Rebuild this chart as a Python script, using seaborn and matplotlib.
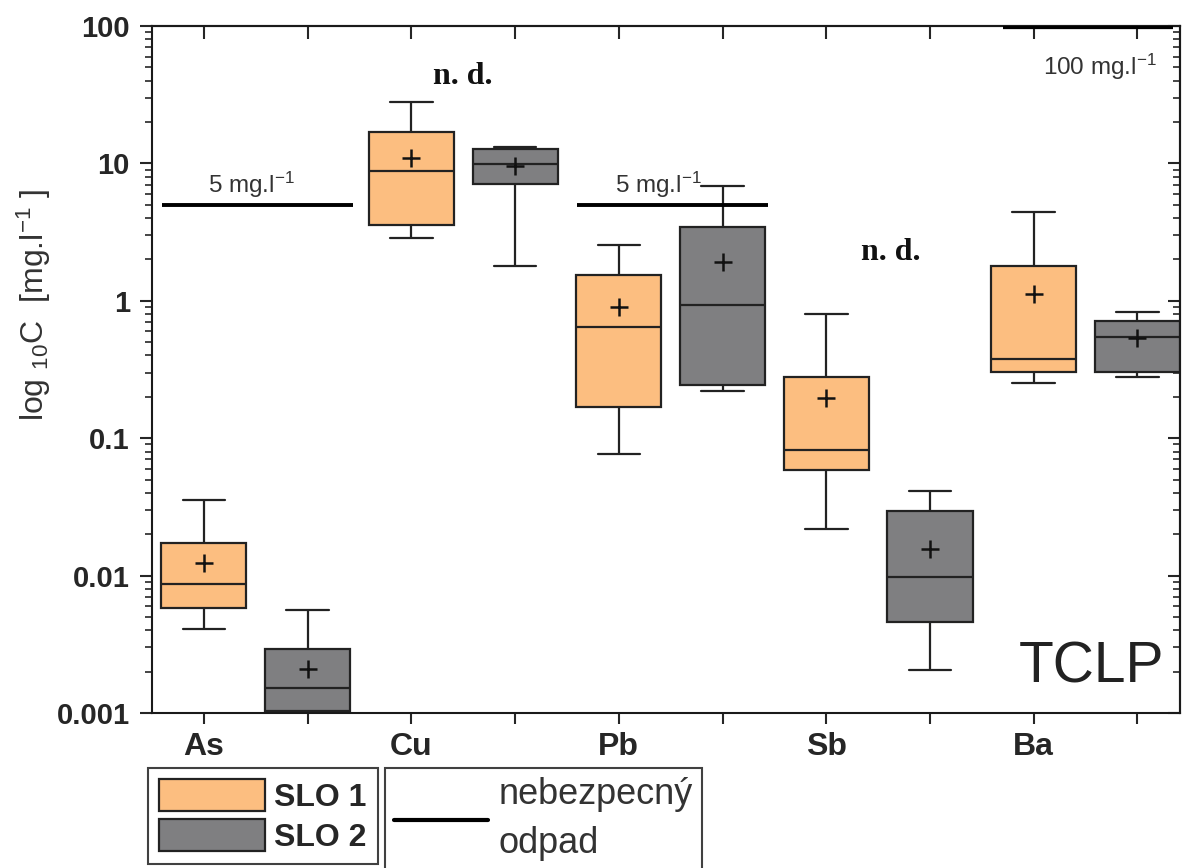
import numpy as np
import pandas as pd
import matplotlib
matplotlib.use("Agg")
import matplotlib.pyplot as plt
import seaborn as sns
from matplotlib.patches import Patch
from matplotlib.lines import Line2D
from matplotlib.ticker import LogLocator, NullFormatter

# ---------------- data ----------------
elements = ["As", "Cu", "Pb", "Sb", "Ba"]
groups = ["SLO 1", "SLO 2"]

slo1_low = [0.0041, 2.86, 0.077, 0.022, 0.252]
slo1_q1 = [0.0058, 3.56, 0.169, 0.059, 0.303]
slo1_median = [0.0087, 8.8, 0.645, 0.082, 0.377]
slo1_q3 = [0.0173, 16.9, 1.54, 0.279, 1.79]
slo1_high = [0.0355, 28.0, 2.55, 0.80, 4.43]
slo1_mean = [0.0124, 10.9, 0.90, 0.196, 1.12]

slo2_low = [0.00085, 1.79, 0.221, 0.00206, 0.279]
slo2_q1 = [0.00103, 7.08, 0.244, 0.00459, 0.303]
slo2_median = [0.00152, 9.9, 0.93, 0.00977, 0.545]
slo2_q3 = [0.00292, 12.7, 3.44, 0.0295, 0.713]
slo2_high = [0.00562, 13.2, 6.85, 0.0413, 0.83]
slo2_mean = [0.00209, 9.57, 1.92, 0.0156, 0.537]

limit_elements = ["As", "Pb", "Ba"]
limit_values = [5, 5, 100]
limit_texts = [r"5 mg.l$^{-1}$", r"5 mg.l$^{-1}$", r"100 mg.l$^{-1}$"]

nd_elements = ["Cu", "Sb"]
nd_text = "n. d."

y_tick_values = [0.001, 0.01, 0.1, 1, 10, 100]
y_tick_labels = ["0.001", "0.01", "0.1", "1", "10", "100"]

colors = {"SLO 1": "#FCBE80", "SLO 2": "#7F7F81"}
edge = "#222222"

# ---------------- style ----------------
sns.set_theme(style="ticks")
plt.rcParams["font.family"] = ["Liberation Sans", "DejaVu Sans"]
plt.rcParams["mathtext.fontset"] = "custom"
plt.rcParams["mathtext.rm"] = "Liberation Sans"
plt.rcParams["mathtext.it"] = "Liberation Sans:italic"
plt.rcParams["mathtext.bf"] = "Liberation Sans:bold"
plt.rcParams["axes.linewidth"] = 1.5
plt.rcParams["axes.edgecolor"] = "#1a1a1a"

fig = plt.figure(figsize=(11.84, 8.68), dpi=100)
ax = fig.add_axes([0.1284, 0.1786, 0.8682, 0.7914])

# long table built from the five-number summaries
rows = []
summaries = {
    "SLO 1": (slo1_low, slo1_q1, slo1_median, slo1_q3, slo1_high),
    "SLO 2": (slo2_low, slo2_q1, slo2_median, slo2_q3, slo2_high),
}
for g, arrs in summaries.items():
    for i, el in enumerate(elements):
        for arr in arrs:
            rows.append({"element": el, "group": g, "conc": arr[i]})
df = pd.DataFrame(rows)

sns.boxplot(
    data=df, x="element", y="conc", hue="group",
    order=elements, hue_order=groups, palette=colors,
    saturation=1, width=1.0, gap=0.18, dodge=True,
    whis=(0, 100), showfliers=False,
    linewidth=1.6, linecolor=edge, log_scale=True,
    legend=False, ax=ax,
)

# means as "+"
mean_df = pd.DataFrame({
    "pos": [i - 0.25 for i in range(len(elements))] + [i + 0.25 for i in range(len(elements))],
    "mean": slo1_mean + slo2_mean,
})
sns.scatterplot(data=mean_df, x="pos", y="mean", marker="+", s=180,
                color="#111111", linewidth=1.8, legend=False, ax=ax, zorder=5)

# threshold lines (nebezpecný odpad)
spans = {"As": (-0.45, 0.47), "Pb": (-0.45, 0.47), "Ba": (-0.40, 0.42)}
text_dx = {"As": -0.02, "Pb": -0.06, "Ba": 0.07}
for el, val, txt in zip(limit_elements, limit_values, limit_texts):
    i = elements.index(el)
    lo, hi = spans[el]
    lw = 4.5 if val >= 100 else 2.8
    ax.hlines(val, i + lo, i + hi, color="black", lw=lw, zorder=4)
    ty = val * 1.39 if val < 100 else val * 0.50
    ax.text(i + text_dx[el], ty, txt, ha="center", va="center",
            fontsize=17.5, color="#333333", zorder=6)

nd_pos = {"Cu": (0.0, 42.6), "Sb": (0.06, 2.26)}
for el in nd_elements:
    i = elements.index(el)
    dx, yv = nd_pos[el]
    ax.text(i + dx, yv, nd_text, ha="center", va="center", fontsize=23,
            fontweight="bold", family=["Liberation Serif", "DejaVu Serif"], color="#111111")

ax.text(0.914, 0.066, "TCLP", transform=ax.transAxes, ha="center", va="center",
        fontsize=41, color="#222222")

# axes
ax.set_ylim(0.001, 100)
ax.set_xlim(-0.5, 4.455)
ax.set_yticks(y_tick_values, labels=y_tick_labels)
ax.yaxis.set_minor_locator(LogLocator(base=10, subs=np.arange(2, 10)))
ax.yaxis.set_minor_formatter(NullFormatter())

xpos = []
xlabels = []
for i, el in enumerate(elements):
    xpos += [i - 0.25, i + 0.25]
    xlabels += [el, ""]
ax.set_xticks(xpos, labels=xlabels)
ax.tick_params(axis="x", which="major", direction="out", length=8, width=1.5,
               labelsize=23, pad=6)
ax.tick_params(axis="y", which="major", direction="out", length=9, width=1.5,
               labelsize=21, pad=7)
ax.tick_params(axis="y", which="minor", direction="out", length=5, width=1.2)
for lab in ax.get_xticklabels() + ax.get_yticklabels():
    lab.set_fontweight("bold")

ax.set_xlabel("")
ax.set_ylabel(r"log $_{10}$C  [mg.l$^{-1}$ ]", fontsize=23, color="#333333")
ax.yaxis.set_label_coords(-0.096, 0.594)

for s in ["top", "right"]:
    ax.spines[s].set_visible(True)

top = ax.secondary_xaxis("top")
top.set_xticks(xpos)
top.tick_params(direction="in", length=9, width=1.5, labeltop=False)
right = ax.secondary_yaxis("right")
right.tick_params(which="major", direction="in", length=9, width=1.5, labelright=False)
right.tick_params(which="minor", direction="in", length=5, width=1.2, labelright=False)

# legends
h1 = [Patch(facecolor=colors[g], edgecolor=edge, linewidth=1.6) for g in groups]
leg1 = fig.legend(h1, groups, loc="upper left", bbox_to_anchor=(148 / 1184, 1 - 768 / 868),
                  frameon=True, fancybox=False, edgecolor="#111111",
                  prop={"size": 23, "weight": "bold"}, handlelength=3.3, handleheight=1.15,
                  labelspacing=0.2, handletextpad=0.3, borderpad=0.35, borderaxespad=0)
leg1.get_frame().set_linewidth(1.5)

h2 = [Line2D([0], [0], color="black", lw=3)]
leg2 = fig.legend(h2, ["nebezpecný\nodpad"], loc="upper left",
                  bbox_to_anchor=(385 / 1184, 1 - 768 / 868),
                  frameon=True, fancybox=False, edgecolor="#111111",
                  prop={"size": 26}, handlelength=2.6, handletextpad=0.3,
                  borderpad=0.25, borderaxespad=0)
leg2.get_frame().set_linewidth(1.5)
for t in leg2.get_texts():
    t.set_color("#333333")
    t.set_linespacing(1.5)

fig.savefig("out.png", dpi=100)
